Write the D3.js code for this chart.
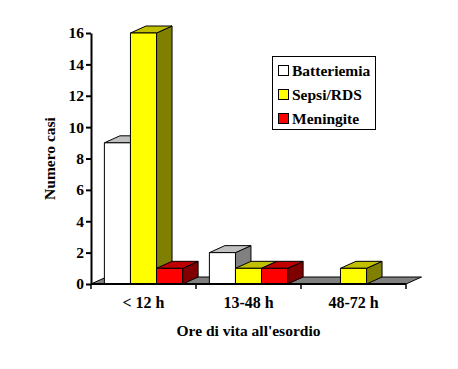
<!DOCTYPE html>
<html>
<head>
<meta charset="utf-8">
<script src="https://cdn.jsdelivr.net/npm/d3@7"></script>
<style>
  body { margin: 0; background: #fff; }
</style>
</head>
<body>
<div id="viz"></div>
<script>
const categories = ["< 12 h", "13-48 h", "48-72 h"];
const series = ["Batteriemia", "Sepsi/RDS", "Meningite"];
const values = {
  "Batteriemia": [9, 2, 0],
  "Sepsi/RDS": [16, 1, 1],
  "Meningite": [1, 1, 0]
};
const yTicks = [0, 2, 4, 6, 8, 10, 12, 14, 16];

const colors = {
  "Batteriemia": {front: "#ffffff", top: "#c0c0c0", side: "#808080"},
  "Sepsi/RDS": {front: "#ffff00", top: "#c0c000", side: "#808000"},
  "Meningite": {front: "#ff0000", top: "#c00000", side: "#800000"}
};

const FONT = "'Liberation Serif', 'Times New Roman', serif";
const width = 458, height = 369;
const plotL = 91, plotR = 406, plotT = 33, plotB = 284;
const dx = 15.5, dy = -7;

const svg = d3.select("#viz").append("svg")
  .attr("width", width)
  .attr("height", height);

function label(sel, size) {
  return sel.style("font-family", FONT).style("font-weight", "bold")
    .style("font-size", size + "px").attr("fill", "#000");
}

const y = d3.scaleLinear().domain([0, 16]).range([plotB, plotT]);
const x0 = d3.scaleBand().domain(categories).range([plotL, plotR]).padding(0);
const groupW = x0.bandwidth() * 0.745;
const x1 = d3.scaleBand().domain(series)
  .range([(x0.bandwidth() - groupW) / 2, (x0.bandwidth() + groupW) / 2]);

// floor
svg.append("path")
  .attr("d", `M${plotL},${plotB}L${plotR},${plotB}L${plotR + dx},${plotB + dy}L${plotL + dx},${plotB + dy}Z`)
  .attr("fill", "#808080")
  .attr("stroke", "#000")
  .attr("stroke-width", 1);

// bars
categories.forEach((cat, ci) => {
  series.forEach(s => {
    const v = values[s][ci];
    if (!v) return;
    const xa = x0(cat) + x1(s), xb = xa + x1.bandwidth();
    const yt = y(v), yb = y(0);
    const g = svg.append("g").attr("stroke", "#000").attr("stroke-width", 1).attr("stroke-linejoin", "round");
    g.append("path")
      .attr("d", `M${xb},${yb}L${xb},${yt}L${xb + dx},${yt + dy}L${xb + dx},${yb + dy}Z`)
      .attr("fill", colors[s].side);
    g.append("path")
      .attr("d", `M${xa},${yt}L${xb},${yt}L${xb + dx},${yt + dy}L${xa + dx},${yt + dy}Z`)
      .attr("fill", colors[s].top);
    g.append("rect")
      .attr("x", xa).attr("y", yt)
      .attr("width", xb - xa).attr("height", yb - yt)
      .attr("fill", colors[s].front);
  });
});

// y axis
const yAxis = svg.append("g")
  .attr("transform", `translate(${plotL},0)`)
  .call(d3.axisLeft(y).tickValues(yTicks).tickSize(5).tickSizeOuter(0).tickPadding(2));
yAxis.select(".domain").attr("stroke-width", 2);
yAxis.selectAll(".tick line").attr("stroke-width", 2);
label(yAxis.selectAll(".tick text"), 15.5);

// x axis
svg.append("line")
  .attr("x1", plotL).attr("x2", plotR)
  .attr("y1", plotB).attr("y2", plotB)
  .attr("stroke", "#000").attr("stroke-width", 2);
const bounds = categories.map(c => x0(c)).concat([plotR]);
svg.selectAll(".xtick").data(bounds).join("line")
  .attr("x1", d => d).attr("x2", d => d)
  .attr("y1", plotB).attr("y2", plotB + 5)
  .attr("stroke", "#000").attr("stroke-width", 1.5);
label(svg.selectAll(".xlab").data(categories).join("text")
  .attr("x", d => x0(d) + x0.bandwidth() / 2)
  .attr("y", 308)
  .attr("text-anchor", "middle")
  .text(d => d), 16);

// axis titles
label(svg.append("text")
  .attr("x", (plotL + plotR) / 2)
  .attr("y", 336)
  .attr("text-anchor", "middle")
  .text("Ore di vita all'esordio"), 15.5);
label(svg.append("text")
  .attr("transform", `translate(55,${(plotT + plotB) / 2}) rotate(-90)`)
  .attr("text-anchor", "middle")
  .text("Numero casi"), 15.5);

// legend
const legend = svg.append("g").attr("transform", "translate(272,56)");
legend.append("rect")
  .attr("x", 0.5).attr("y", 0.5)
  .attr("width", 103).attr("height", 73)
  .attr("fill", "#fff").attr("stroke", "#000");
series.forEach((s, i) => {
  legend.append("rect")
    .attr("x", 6.5).attr("y", 9.5 + i * 24)
    .attr("width", 10).attr("height", 10)
    .attr("fill", colors[s].front).attr("stroke", "#000");
  label(legend.append("text")
    .attr("x", 20).attr("y", 19.5 + i * 24)
    .text(s), 15.5);
});
</script>
</body>
</html>
